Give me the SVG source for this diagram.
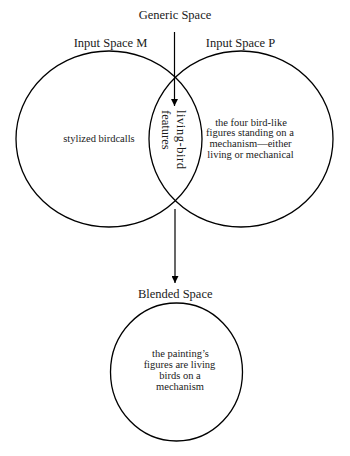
<svg xmlns="http://www.w3.org/2000/svg" width="350" height="456" viewBox="0 0 350 456">
<style>
.sp{fill:none;stroke:#000;stroke-width:1.3}
.t{font-family:"Liberation Serif","DejaVu Serif",serif;fill:#1a1a1a;text-anchor:middle}
.h{font-size:12.5px}
.b{font-size:10.5px}
.v{font-size:12.5px;text-anchor:start}
.c{stroke:#000;stroke-width:1.2;fill:none}
</style>
<defs>
<marker id="ah" viewBox="0 0 10 10" refX="10" refY="5" markerWidth="7" markerHeight="7" markerUnits="userSpaceOnUse" orient="auto">
<path d="M0,0 L10,5 L0,10 Z" fill="#000"/>
</marker>
</defs>
<g id="generic">
<text class="t h" x="175" y="19">Generic Space</text>
</g>
<g id="inputM">
<ellipse class="sp" cx="109" cy="139" rx="93" ry="88"/>
<text class="t h" x="110.5" y="47">Input Space M</text>
<text class="t b" x="99" y="142">stylized birdcalls</text>
</g>
<g id="inputP">
<ellipse class="sp" cx="241" cy="139" rx="92" ry="88"/>
<text class="t h" x="240.5" y="47">Input Space P</text>
<text class="t b" x="251" y="125.5">the four bird-like</text>
<text class="t b" x="250" y="136.2">figures standing on a</text>
<text class="t b" x="250.5" y="146.9">mechanism—either</text>
<text class="t b" x="250.5" y="157.5">living or mechanical</text>
</g>
<g id="overlap">
<text class="t v" transform="translate(177,110) rotate(90)" textLength="59" lengthAdjust="spacing">living-bird</text>
<text class="t v" transform="translate(161.5,110) rotate(90)">features</text>
</g>
<g id="blended">
<ellipse class="sp" cx="176.5" cy="372" rx="66" ry="69"/>
<text class="t h" x="175.2" y="297.5">Blended Space</text>
<text class="t b" x="180.5" y="356.7">the painting’s</text>
<text class="t b" x="179.5" y="367.7">figures are living</text>
<text class="t b" x="180" y="378.7">birds on a</text>
<text class="t b" x="180" y="389.7">mechanism</text>
</g>
<g id="connectors">
<line class="c" x1="174.5" y1="32" x2="174.5" y2="106" marker-end="url(#ah)"/>
<line class="c" x1="175" y1="209" x2="175" y2="283" marker-end="url(#ah)"/>
</g>
</svg>
